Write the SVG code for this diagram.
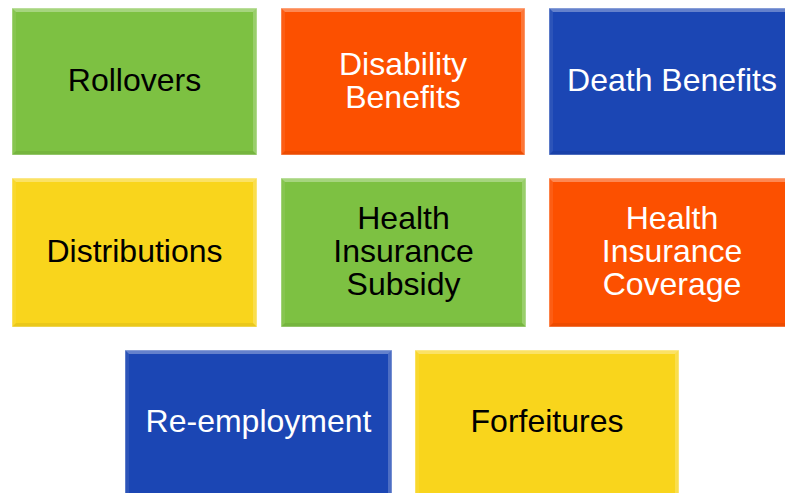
<svg xmlns="http://www.w3.org/2000/svg" width="785" height="493" viewBox="0 0 785 493">
<style>
.t{font-family:"Liberation Sans",Arial,sans-serif;font-size:32px;text-anchor:middle}
.dk{fill:#000}
.lt{fill:#fff}
.g{fill:#7dc142}
.o{fill:#fc5000}
.b{fill:#1b46b4}
.y{fill:#f9d51c}
.hl{fill:#fff;fill-opacity:0.32}
.hr{fill:#fff;fill-opacity:0.22}
.hlft{fill:#fff;fill-opacity:0.08}
.hb{fill:#000;fill-opacity:0.06}
.edge{fill:none;stroke:#fff;stroke-opacity:0.45;stroke-width:1}
</style>
<defs>
<g id="bevel">
</g>
</defs>
<rect width="785" height="493" fill="#fff"/>
<g id="connectors"></g>

<g id="n1">
<rect class="g" x="12" y="8" width="245" height="147"/>
<polygon class="hl" points="12,8 257,8 253,12 16,12"/>
<polygon class="hr" points="257,8 257,155 253,151 253,12"/>
<polygon class="hlft" points="12,8 16,12 16,151 12,155"/>
<polygon class="hb" points="12,155 257,155 253,151 16,151"/>
<rect class="edge" x="12" y="8" width="245" height="147"/>
<text class="t dk" x="134.5" y="91">Rollovers</text>
</g>

<g id="n2">
<rect class="o" x="281" y="8" width="244" height="147"/>
<polygon class="hl" points="281,8 525,8 521,12 285,12"/>
<polygon class="hr" points="525,8 525,155 521,151 521,12"/>
<polygon class="hlft" points="281,8 285,12 285,151 281,155"/>
<polygon class="hb" points="281,155 525,155 521,151 285,151"/>
<rect class="edge" x="281" y="8" width="244" height="147"/>
<text class="t lt" x="403" y="74.5">Disability</text>
<text class="t lt" x="403" y="107.5">Benefits</text>
</g>

<g id="n3">
<rect class="b" x="549" y="8" width="246" height="147"/>
<polygon class="hl" points="549,8 795,8 791,12 553,12"/>
<polygon class="hlft" points="549,8 553,12 553,151 549,155"/>
<polygon class="hb" points="549,155 795,155 791,151 553,151"/>
<rect class="edge" x="549" y="8" width="246" height="147"/>
<text class="t lt" x="672" y="91">Death Benefits</text>
</g>

<g id="n4">
<rect class="y" x="12" y="178" width="245" height="149"/>
<polygon class="hl" points="12,178 257,178 253,182 16,182"/>
<polygon class="hr" points="257,178 257,327 253,323 253,182"/>
<polygon class="hlft" points="12,178 16,182 16,323 12,327"/>
<polygon class="hb" points="12,327 257,327 253,323 16,323"/>
<rect class="edge" x="12" y="178" width="245" height="149"/>
<text class="t dk" x="134.5" y="262">Distributions</text>
</g>

<g id="n5">
<rect class="g" x="281" y="178" width="245" height="149"/>
<polygon class="hl" points="281,178 526,178 522,182 285,182"/>
<polygon class="hr" points="526,178 526,327 522,323 522,182"/>
<polygon class="hlft" points="281,178 285,182 285,323 281,327"/>
<polygon class="hb" points="281,327 526,327 522,323 285,323"/>
<rect class="edge" x="281" y="178" width="245" height="149"/>
<text class="t dk" x="403.5" y="229">Health</text>
<text class="t dk" x="403.5" y="262">Insurance</text>
<text class="t dk" x="403.5" y="295">Subsidy</text>
</g>

<g id="n6">
<rect class="o" x="549" y="178" width="246" height="149"/>
<polygon class="hl" points="549,178 795,178 791,182 553,182"/>
<polygon class="hlft" points="549,178 553,182 553,323 549,327"/>
<polygon class="hb" points="549,327 795,327 791,323 553,323"/>
<rect class="edge" x="549" y="178" width="246" height="149"/>
<text class="t lt" x="672" y="229">Health</text>
<text class="t lt" x="672" y="262">Insurance</text>
<text class="t lt" x="672" y="295">Coverage</text>
</g>

<g id="n7">
<rect class="b" x="125" y="350" width="267" height="147"/>
<polygon class="hl" points="125,350 392,350 388,354 129,354"/>
<polygon class="hr" points="392,350 392,497 388,493 388,354"/>
<polygon class="hlft" points="125,350 129,354 129,497 125,497"/>
<rect class="edge" x="125" y="350" width="267" height="147"/>
<text class="t lt" x="258.5" y="432">Re-employment</text>
</g>

<g id="n8">
<rect class="y" x="415" y="350" width="264" height="147"/>
<polygon class="hl" points="415,350 679,350 675,354 419,354"/>
<polygon class="hr" points="679,350 679,497 675,493 675,354"/>
<polygon class="hlft" points="415,350 419,354 419,497 415,497"/>
<rect class="edge" x="415" y="350" width="264" height="147"/>
<text class="t dk" x="547" y="432">Forfeitures</text>
</g>
</svg>
